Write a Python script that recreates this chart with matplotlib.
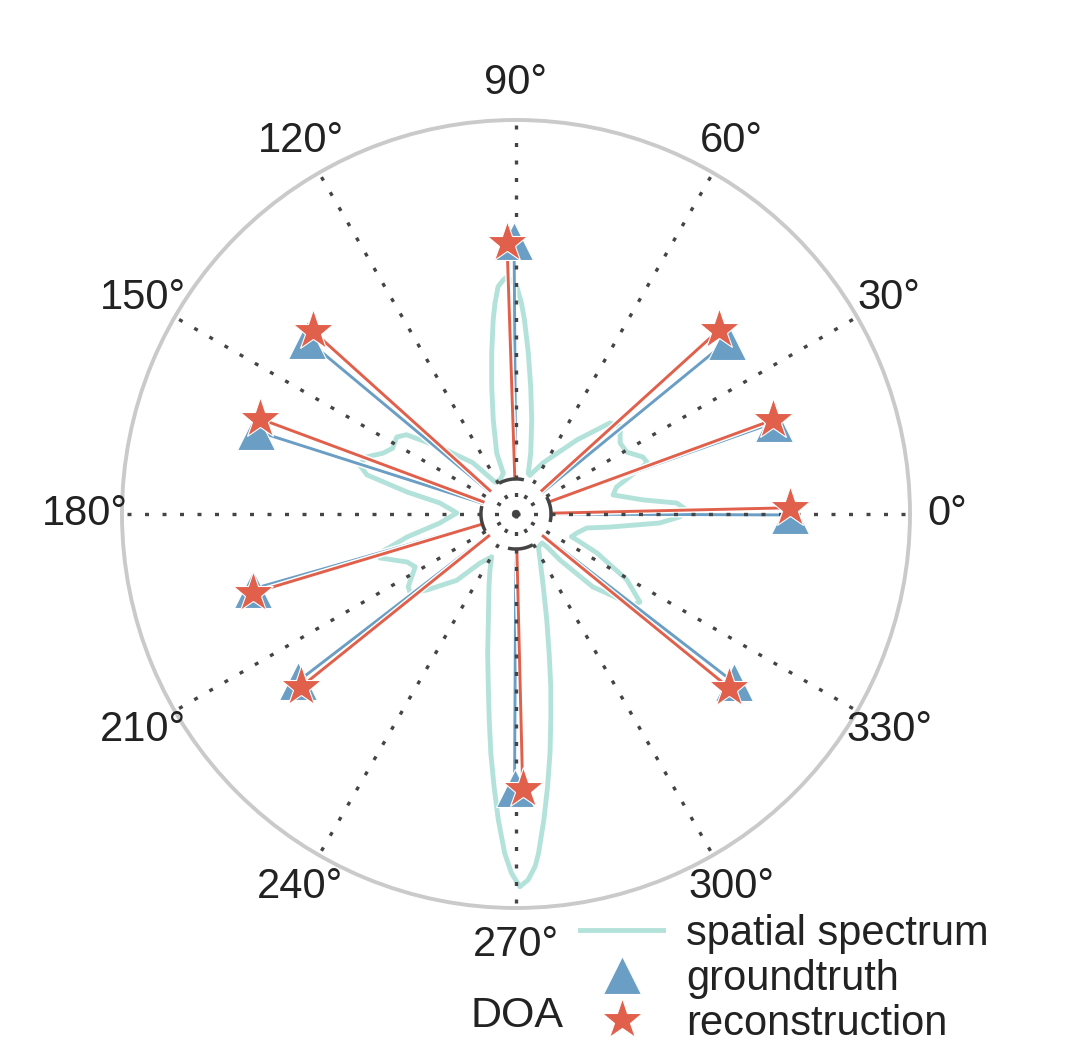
import matplotlib.pyplot as plt
import matplotlib.patheffects as pe
import numpy as np
from matplotlib.lines import Line2D

plt.rcParams['font.family'] = ['Liberation Sans', 'DejaVu Sans']

# DOA estimates (degrees) and their radii (outer circle = 1)
gt_deg = [90.4, 140.2, 162.3, 195.9, 217.5, 269.7, 322.3, 359.8, 19.5, 39.3]
gt_r = [0.693, 0.690, 0.693, 0.695, 0.698, 0.695, 0.698, 0.695, 0.695, 0.693]
rec_deg = [91.9, 138.0, 159.6, 196.7, 218.8, 271.4, 320.8, 1.3, 20.1, 42.2]
rec_r = [0.688, 0.694, 0.693, 0.696, 0.701, 0.698, 0.698, 0.695, 0.695, 0.695]

# spatial spectrum, in path order
spec_deg = [1.3, 3.9, 6.3, 11.1, 15.0, 21.3, 24.2, 29.2, 34.3, 39.9, 44.1, 50.5,
            62.1, 70.3, 73.2, 76.4, 80.5, 83.4, 85.6, 87.5, 88.5, 89.8, 91.1,
            92.3, 93.1, 94.5, 95.7, 96.7, 98.6, 100.8, 103.6, 107.6, 107.3,
            115.0, 123.0, 130.1, 138.6, 144.1, 147.1, 152.0, 155.4,
            159.1, 162.6, 165.3, 168.6, 171.8, 179.0, 186.8, 191.9, 196.0, 197.9,
            203.8, 207.7, 214.0, 216.7, 220.5, 228.2, 233.7, 239.4, 240.4, 245.1,
            249.6, 255.4, 258.5, 260.9, 262.6, 264.0, 265.4, 266.7, 268.1, 269.3,
            270.6, 271.9, 273.1, 273.8, 275.2, 276.6, 278.1, 279.6, 281.4, 283.4,
            286.2, 290.6, 297.6, 304.3, 311.9, 313.2, 313.7, 316.5, 322.1, 324.6,
            329.3, 334.3, 336.9, 337.7, 342.7, 348.8, 352.1, 356.4, 359.0]
spec_r = [0.434, 0.409, 0.325, 0.251, 0.264, 0.358, 0.353, 0.322, 0.320, 0.345, 0.332, 0.244,
          0.147, 0.104, 0.108, 0.159, 0.242, 0.325, 0.409, 0.493, 0.535, 0.577, 0.594,
          0.601, 0.595, 0.579, 0.537, 0.496, 0.412, 0.329, 0.245, 0.162, 0.108,
          0.096, 0.096, 0.170, 0.256, 0.343, 0.360, 0.355, 0.371,
          0.406, 0.416, 0.391, 0.282, 0.195, 0.150, 0.195, 0.282, 0.360, 0.363,
          0.302, 0.289, 0.330, 0.335, 0.297, 0.226, 0.155, 0.129, 0.125, 0.157,
          0.197, 0.278, 0.361, 0.444, 0.527, 0.611, 0.694, 0.778, 0.862, 0.912,
          0.946, 0.929, 0.896, 0.863, 0.780, 0.697, 0.613, 0.530, 0.447, 0.363,
          0.280, 0.197, 0.132, 0.101, 0.099, 0.114, 0.162, 0.269, 0.376, 0.386,
          0.327, 0.228, 0.168, 0.152, 0.162, 0.183, 0.241, 0.365, 0.416]

tick_deg = list(range(0, 360, 30))
r_in = 0.089

blue = '#6a9ec4'
red = '#e0604c'
teal = '#b3e2da'
dark = '#444444'
txt = '#222222'

fig = plt.figure(figsize=(10.88, 10.59), dpi=100)
ax = fig.add_axes([0.1121, 0.1426, 0.7243, 0.7441], projection='polar')
ax.set_ylim(0, 1)
ax.set_yticks([])
ax.set_xticks(np.deg2rad(tick_deg))
ax.set_xticklabels([])
ax.tick_params(length=0)
ax.set_axisbelow(False)
ax.xaxis.grid(True, color=dark, lw=2.4, linestyle=(0, (1.2, 4.05)))
ax.yaxis.grid(False)
ax.spines['polar'].set_color('#cacaca')
ax.spines['polar'].set_linewidth(2.8)

for d in tick_deg:
    ax.text(np.deg2rad(d), 1.094, f'{d}°', ha='center', va='center',
            fontsize=30, color=txt)

# spectrum (closed curve)
th = np.deg2rad(spec_deg + [spec_deg[0] + 360])
ax.plot(th, spec_r + [spec_r[0]], color=teal, lw=3.5, zorder=1.8)

# inner circle
circ = np.deg2rad(np.linspace(-13, 347, 400))
ax.plot(circ, np.full_like(circ, r_in), color=dark, lw=2.5,
        linestyle=(0, (7.4, 8.45)), zorder=2.6)

halo = [pe.Stroke(linewidth=4.2, foreground='white'), pe.Normal()]
for d, r in zip(gt_deg, gt_r):
    ax.plot(np.deg2rad([d, d]), [r_in, r], color=blue, lw=2.1, zorder=2,
            path_effects=halo)
for d, r in zip(rec_deg, rec_r):
    ax.plot(np.deg2rad([d, d]), [r_in, r], color=red, lw=2.1, zorder=2.1,
            path_effects=halo)

ax.plot(np.deg2rad(gt_deg), gt_r, ls='', marker='^', ms=27, color=blue,
        mec='white', mew=0.8, zorder=3, clip_on=False)
ax.plot(np.deg2rad(rec_deg), rec_r, ls='', marker='*', ms=31, color=red,
        mec='white', mew=0.8, zorder=3.1, clip_on=False)

handles = [Line2D([], [], color=teal, lw=3.5),
           Line2D([], [], ls='', marker='^', ms=27, color=blue, mec='white', mew=0.8),
           Line2D([], [], ls='', marker='*', ms=31, color=red, mec='white', mew=0.8)]
labels = ['spatial spectrum', 'groundtruth', 'reconstruction']
leg = fig.legend(handles, labels, loc='upper left', bbox_to_anchor=(580 / 1088, 0.137),
                 frameon=False, fontsize=30, handlelength=2.0, handletextpad=0.55,
                 labelspacing=0.12, borderpad=0, borderaxespad=0, numpoints=1)
for t in leg.get_texts():
    t.set_color(txt)

fig.text(517 / 1088, (1059 - 1016) / 1059, 'DOA', ha='center', va='center',
         fontsize=31, color=txt)

fig.savefig('out.png', dpi=100)
